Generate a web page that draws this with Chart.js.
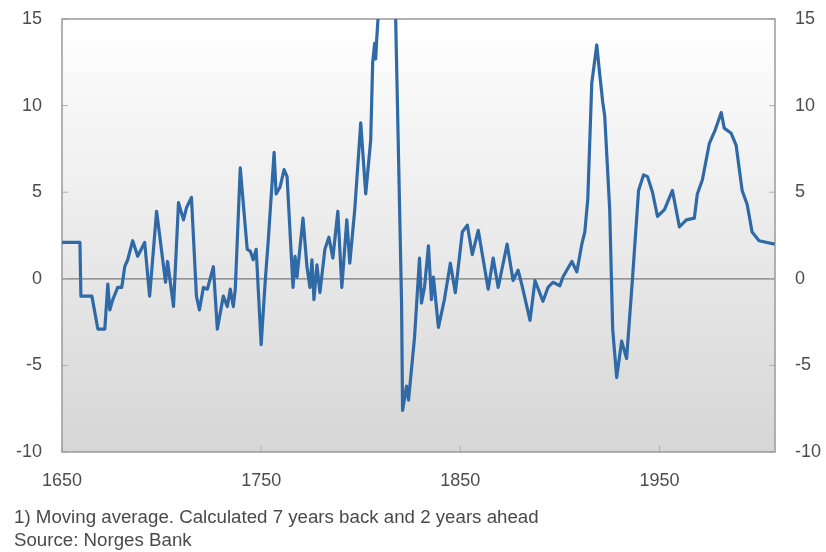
<!DOCTYPE html>
<html>
<head>
<meta charset="utf-8">
<script src="https://cdn.jsdelivr.net/npm/chart.js@4/dist/chart.umd.min.js"></script>
<style>
  html, body { margin: 0; padding: 0; background: #fff; }
  #wrap { position: relative; width: 826px; height: 552px; }
  #chart { position: absolute; left: 0; top: 0; }
  .note {
    position: absolute; left: 14px; margin: 0;
    font-family: "Liberation Sans", Arial, sans-serif;
    font-size: 18.7px; color: #4a4a4a; white-space: nowrap;
  }
</style>
</head>
<body>
<div id="wrap">
  <canvas id="chart" width="826" height="552"></canvas>
  <p class="note" id="note1" style="top:506px"></p>
  <p class="note" id="note2" style="top:529px"></p>
</div>
<script>
"use strict";

// vertices of the line (year, value)
const YEARS = [
  1650, 1659, 1659.5, 1665, 1668, 1671.5, 1673, 1674, 1675.5, 1678,
  1680, 1681.5, 1683, 1685.5, 1688, 1691.5, 1694, 1697.5, 1702, 1703,
  1706, 1708.5, 1711, 1712.5, 1715, 1717.5, 1719, 1721, 1723, 1726,
  1728, 1731, 1733, 1734.5, 1736, 1737, 1739.5, 1743, 1744.5, 1746,
  1747.5, 1750, 1752, 1753.5, 1756.5, 1757.5, 1759.5, 1761.5, 1763, 1766,
  1767, 1768, 1771, 1773, 1774.5, 1775.5, 1776.5, 1778, 1779.5, 1782,
  1784, 1786, 1788.5, 1790.5, 1793, 1794.5, 1797, 1800, 1802.5, 1805,
  1806, 1807, 1807.5, 1808, 1809.5, 1812, 1815, 1817.5, 1820.5, 1821,
  1823, 1824, 1827, 1829.5, 1830.5, 1832, 1834, 1835.5, 1836.5, 1839,
  1842, 1845, 1847.5, 1851, 1853.5, 1856, 1859, 1864, 1866.5, 1869,
  1873.5, 1876.5, 1879, 1881, 1885, 1887.5, 1891.5, 1894, 1896.5, 1900,
  1901.5, 1906, 1908.5, 1911, 1912.5, 1914, 1916, 1918.5, 1920, 1921.5,
  1922.5, 1925, 1926.5, 1928.5, 1931, 1933.5, 1936.5, 1939.5, 1942, 1944,
  1946.5, 1949, 1952.5, 1956.5, 1960, 1963.5, 1967.5, 1969, 1971.5, 1975,
  1978, 1981, 1982.5, 1986, 1988.5, 1991.5, 1994, 1996.5, 2000, 2007.8,
];

const VALUES = [
  2.1, 2.1, -1.0, -1.0, -2.9, -2.9, -0.3, -1.8, -1.2, -0.5,
  -0.5, 0.7, 1.1, 2.2, 1.3, 2.1, -1.0, 3.9, -0.2, 1.0,
  -1.6, 4.4, 3.4, 4.1, 4.7, -1.0, -1.8, -0.5, -0.6, 0.7,
  -2.9, -1.0, -1.6, -0.6, -1.6, -0.6, 6.4, 1.7, 1.6, 1.1,
  1.7, -3.8, -0.2, 2.1, 7.3, 4.9, 5.3, 6.3, 5.9, -0.5,
  1.3, 0.1, 3.5, 0.7, -0.5, 1.1, -1.2, 0.8, -0.8, 1.7,
  2.4, 1.2, 3.9, -0.5, 3.4, 0.9, 4.0, 9.0, 4.9, 8.0,
  12.5, 13.6, 12.7, 13.8, 16.5, 19.0, 18.0, 15.2, -1.4, -7.6,
  -6.2, -7.0, -3.4, 1.2, -1.4, -0.5, 1.9, -1.2, 0.1, -2.8,
  -1.2, 0.9, -0.8, 2.7, 3.1, 1.4, 2.8, -0.6, 1.2, -0.5,
  2.0, -0.1, 0.5, -0.4, -2.4, -0.1, -1.3, -0.5, -0.2, -0.4,
  0.1, 1.0, 0.4, 2.0, 2.7, 4.6, 11.3, 13.5, 11.8, 10.2,
  9.4, 4.0, -2.9, -5.7, -3.6, -4.6, 0.1, 5.1, 6.0, 5.9,
  5.0, 3.6, 4.0, 5.1, 3.0, 3.4, 3.5, 4.9, 5.7, 7.8,
  8.6, 9.6, 8.7, 8.4, 7.7, 5.1, 4.3, 2.7, 2.2, 2.0,
];

const X_TICKS = [1650, 1750, 1850, 1950];
const Y_TICKS = [-10, -5, 0, 5, 10, 15];

const NOTES = [
  "1) Moving average. Calculated 7 years back and 2 years ahead",
  "Source: Norges Bank",
];

const LINE_COLOR = "#2f6aa6";
const LABEL_COLOR = "#4d4d4d";
const TICK_FONT = { family: "'Liberation Sans', Arial, sans-serif", size: 18 };

// gradient fill, frame, zero line and small inward tick marks
const plotFrame = {
  id: "plotFrame",
  beforeDatasetsDraw(chart) {
    const { ctx, chartArea: a, scales } = chart;
    const g = ctx.createLinearGradient(0, a.top, 0, a.bottom);
    g.addColorStop(0, "#ffffff");
    g.addColorStop(1, "#d6d6d6");
    ctx.save();
    ctx.fillStyle = g;
    ctx.fillRect(a.left, a.top, a.right - a.left, a.bottom - a.top);

    const y0 = scales.y.getPixelForValue(0);
    ctx.strokeStyle = "#7a7a7a";
    ctx.lineWidth = 1.2;
    ctx.beginPath();
    ctx.moveTo(a.left, y0);
    ctx.lineTo(a.right, y0);
    ctx.stroke();

    ctx.strokeStyle = "#b0b0b0";
    ctx.lineWidth = 1;
    ctx.beginPath();
    for (const v of Y_TICKS) {
      const py = scales.y.getPixelForValue(v);
      ctx.moveTo(a.left, py);
      ctx.lineTo(a.left + 6, py);
      ctx.moveTo(a.right, py);
      ctx.lineTo(a.right - 6, py);
    }
    for (const v of X_TICKS) {
      const px = scales.x.getPixelForValue(v);
      ctx.moveTo(px, a.bottom);
      ctx.lineTo(px, a.bottom - 6);
    }
    ctx.stroke();

    ctx.strokeStyle = "#9a9a9a";
    ctx.lineWidth = 1.5;
    ctx.strokeRect(a.left, a.top, a.right - a.left, a.bottom - a.top);
    ctx.restore();
  },
};

function yAxis(position, width) {
  return {
    type: "linear",
    position,
    min: -10,
    max: 15,
    afterBuildTicks: (scale) => { scale.ticks = Y_TICKS.map((v) => ({ value: v })); },
    afterFit: (scale) => {
      scale.width = width;
      // label padding would otherwise push the plot top down
      scale.paddingTop = 0;
      scale.paddingBottom = 0;
    },
    grid: { display: false, drawTicks: false },
    border: { display: false },
    ticks: { color: LABEL_COLOR, font: TICK_FONT, padding: 20 },
  };
}

function init() {
  document.getElementById("note1").textContent = NOTES[0];
  document.getElementById("note2").textContent = NOTES[1];

  new Chart(document.getElementById("chart"), {
    type: "line",
    data: {
      datasets: [{
        data: YEARS.map((yr, i) => ({ x: yr, y: VALUES[i] })),
        borderColor: LINE_COLOR,
        borderWidth: 3.2,
        pointRadius: 0,
        tension: 0,
        borderJoinStyle: "round",
        yAxisID: "y",
      }],
    },
    options: {
      responsive: false,
      animation: false,
      layout: { padding: { top: 19, left: 0, right: 0, bottom: 0 } },
      plugins: { legend: { display: false }, tooltip: { enabled: false } },
      scales: {
        x: {
          type: "linear",
          min: 1650,
          max: 2008,
          afterBuildTicks: (scale) => { scale.ticks = X_TICKS.map((v) => ({ value: v })); },
          afterFit: (scale) => { scale.height = 100; },
          grid: { display: false, drawTicks: false },
          border: { display: false },
          ticks: { color: LABEL_COLOR, font: TICK_FONT, padding: 18, maxRotation: 0, callback: (v) => String(v) },
        },
        y: yAxis("left", 62),
        y2: yAxis("right", 51),
      },
    },
    plugins: [plotFrame],
  });
}

document.addEventListener("DOMContentLoaded", init);
</script>
</body>
</html>
